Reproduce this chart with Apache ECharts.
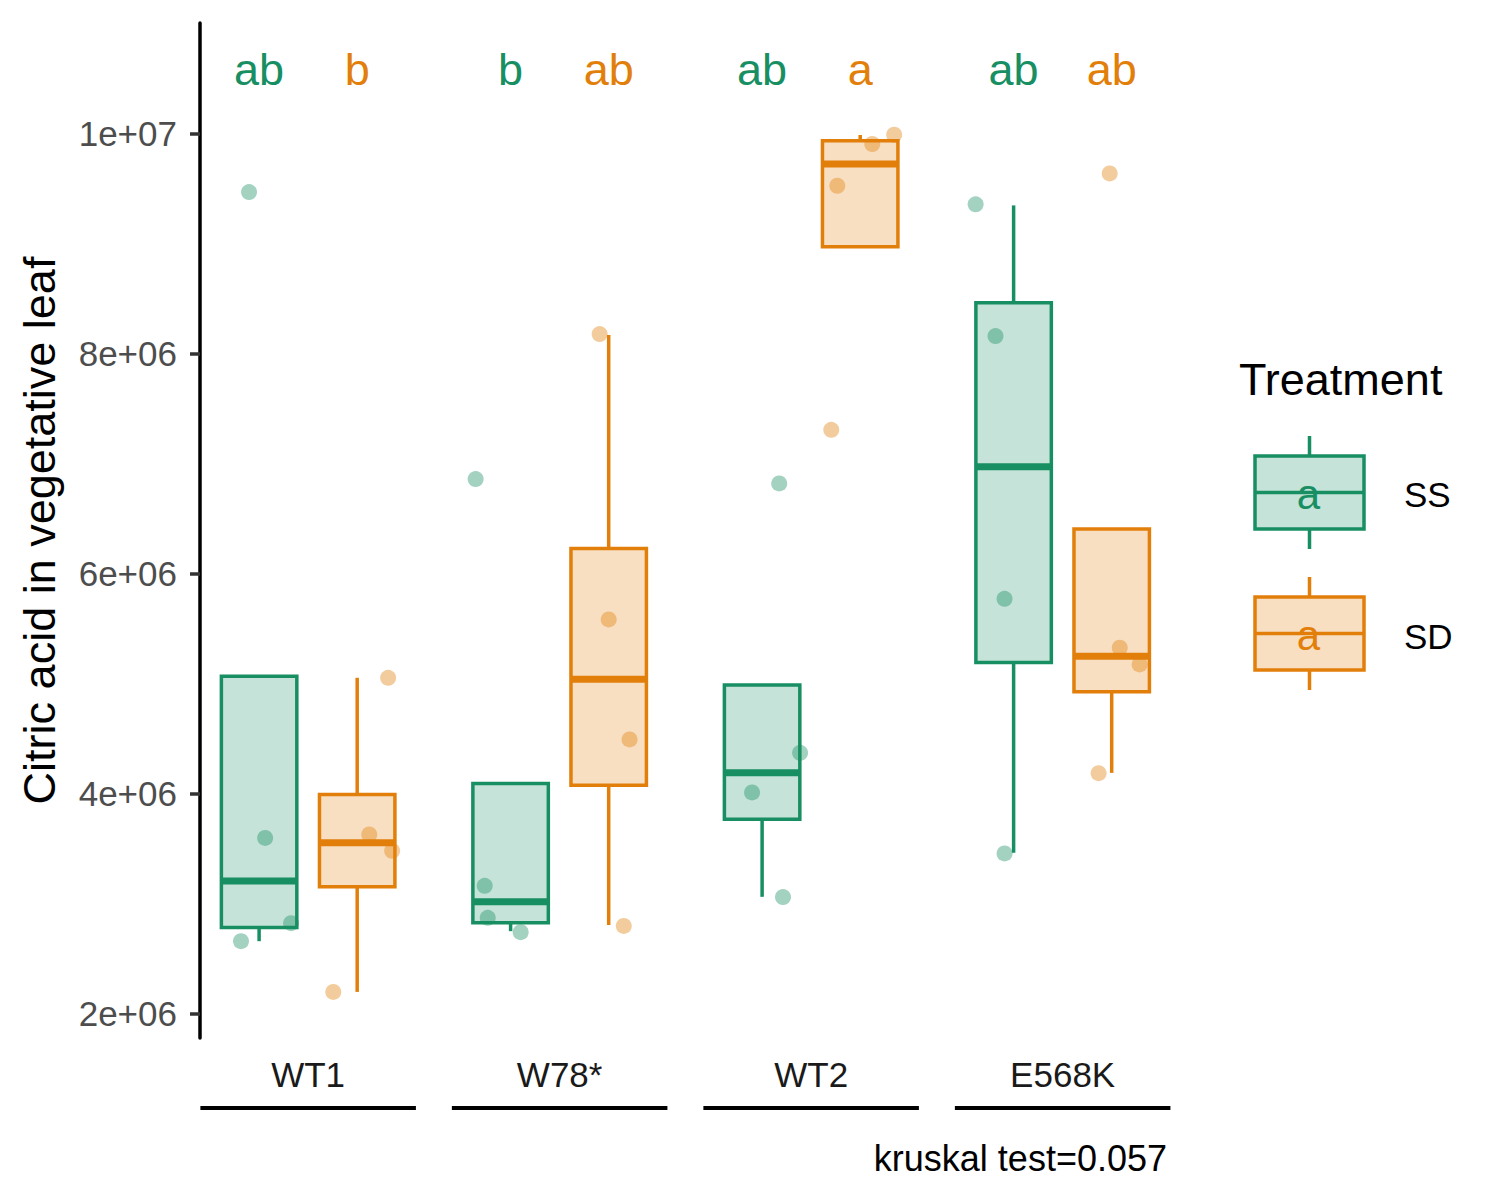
<!DOCTYPE html>
<html>
<head>
<meta charset="UTF-8">
<title>Citric acid in vegetative leaf</title>
<script src="https://cdn.jsdelivr.net/npm/echarts@6/dist/echarts.min.js"></script>
<style>
  html, body { margin: 0; padding: 0; background: #fff; }
  #main { width: 1500px; height: 1200px; }
</style>
</head>
<body>
<div id="main"></div>
<script type="text/javascript">
// genotypes on x, treatments as colours
var groups = ['WT1', 'W78*', 'WT2', 'E568K'];
var treatments = ['SS', 'SD'];

// box stats per genotype: [lower whisker, Q1, median, Q3, upper whisker]
var boxSS = [
  [2.657e6, 2.782e6, 3.205e6, 5.066e6, 5.066e6],
  [2.748e6, 2.824e6, 3.015e6, 4.091e6, 4.091e6],
  [3.060e6, 3.766e6, 4.187e6, 4.985e6, 4.985e6],
  [3.460e6, 5.191e6, 6.969e6, 8.460e6, 9.345e6]
];
var boxSD = [
  [2.196e6, 3.151e6, 3.551e6, 3.991e6, 5.051e6],
  [2.803e6, 4.075e6, 5.039e6, 6.227e6, 8.166e6],
  [8.969e6, 8.969e6, 9.721e6, 9.933e6, 9.985e6],
  [4.187e6, 4.924e6, 5.248e6, 6.403e6, 6.403e6]
];

// single measurements
var pointsSS = [
  [9.466e6, 3.596e6, 2.821e6, 2.657e6],
  [6.857e6, 3.160e6, 2.869e6, 2.739e6],
  [6.818e6, 4.369e6, 4.009e6, 3.058e6],
  [9.355e6, 8.157e6, 5.769e6, 3.455e6]
];
var pointsSD = [
  [5.051e6, 3.627e6, 3.478e6, 2.196e6],
  [8.175e6, 5.582e6, 4.491e6, 2.796e6],
  [9.987e6, 9.903e6, 9.524e6, 7.305e6],
  [9.636e6, 5.324e6, 5.173e6, 4.184e6]
];
// horizontal jitter of each point, in genotype units
var jitterSS = [
  [-0.040, 0.024, 0.127, -0.072],
  [-0.139, -0.103, -0.091, 0.040],
  [0.068, 0.151, -0.040, 0.083],
  [-0.151, -0.072, -0.036, -0.036]
];
var jitterSD = [
  [0.123, 0.048, 0.139, -0.095],
  [-0.036, 0.000, 0.083, 0.060],
  [0.135, 0.048, -0.091, -0.115],
  [-0.008, 0.032, 0.111, -0.052]
];

// significance letters above each box
var lettersSS = ['ab', 'b', 'ab', 'ab'];
var lettersSD = ['b', 'ab', 'a', 'ab'];
var letterY = 10.583e6;

var yTicks = [2e6, 4e6, 6e6, 8e6, 1e7];
var yTickLabels = ['2e+06', '4e+06', '6e+06', '8e+06', '1e+07'];
var yMin = 1.777e6, yMax = 11.003e6;

var FONT = "'Liberation Sans', Arial, Helvetica, sans-serif";
var GREEN = '#188f63', GREEN_FILL = 'rgba(24,143,99,0.25)', GREEN_PT = 'rgba(24,143,99,0.5)';
var ORANGE = '#e27f0b', ORANGE_FILL = 'rgba(226,127,11,0.25)', ORANGE_PT = 'rgba(226,127,11,0.5)';
var DODGE = 0.195, BOX_W = 0.30;

function makeBoxRender(color, fill, dodge) {
  return function (params, api) {
    var x = api.value(0) + dodge;
    var pLow = api.coord([x, api.value(1)]);
    var pQ1 = api.coord([x, api.value(2)]);
    var pMed = api.coord([x, api.value(3)]);
    var pQ3 = api.coord([x, api.value(4)]);
    var pHigh = api.coord([x, api.value(5)]);
    var w = api.size([BOX_W, 0])[0];
    var left = pQ1[0] - w / 2;
    return {
      type: 'group',
      children: [
        { type: 'line', shape: { x1: pLow[0], y1: pLow[1], x2: pQ1[0], y2: pQ1[1] }, style: { stroke: color, lineWidth: 3.5 } },
        { type: 'line', shape: { x1: pQ3[0], y1: pQ3[1], x2: pHigh[0], y2: pHigh[1] }, style: { stroke: color, lineWidth: 3.5 } },
        { type: 'rect', shape: { x: left, y: pQ3[1], width: w, height: pQ1[1] - pQ3[1] }, style: { fill: fill, stroke: color, lineWidth: 3.5 } },
        { type: 'line', shape: { x1: left, y1: pMed[1], x2: left + w, y2: pMed[1] }, style: { stroke: color, lineWidth: 7 } }
      ]
    };
  };
}

function makeLetterRender(letters, color, dodge) {
  return function (params, api) {
    var p = api.coord([api.value(0) + dodge, api.value(1)]);
    return {
      type: 'text',
      x: p[0], y: p[1],
      style: {
        text: letters[params.dataIndex], fill: color,
        font: '45px ' + FONT,
        align: 'center', verticalAlign: 'middle',
        textAlign: 'center', textVerticalAlign: 'middle'
      }
    };
  };
}

function pointData(pts, jit, dodge) {
  var out = [];
  pts.forEach(function (row, g) {
    row.forEach(function (v, k) { out.push([g + dodge + jit[g][k], v]); });
  });
  return out;
}

function boxData(box) {
  return box.map(function (b, g) { return [g].concat(b); });
}

function legendKey(y, color, fill) {
  // y = top of the key box
  return [
    { type: 'line', shape: { x1: 1309.5, y1: y - 20, x2: 1309.5, y2: y }, style: { stroke: color, lineWidth: 3.5 } },
    { type: 'line', shape: { x1: 1309.5, y1: y + 73, x2: 1309.5, y2: y + 93 }, style: { stroke: color, lineWidth: 3.5 } },
    { type: 'rect', shape: { x: 1255, y: y, width: 109, height: 73 }, style: { fill: fill, stroke: color, lineWidth: 3.5 } },
    { type: 'line', shape: { x1: 1255, y1: y + 36.5, x2: 1364, y2: y + 36.5 }, style: { stroke: color, lineWidth: 3.5 } },
    { type: 'text', x: 1308.5, y: y + 38, style: { text: 'a', fill: color, font: '42px ' + FONT, align: 'center', verticalAlign: 'middle', textAlign: 'center', textVerticalAlign: 'middle' } }
  ];
}

var chart = echarts.init(document.getElementById('main'), null, { renderer: 'svg' });

var option = {
  backgroundColor: '#fff',
  animation: false,
  grid: { left: 200, top: 23, right: 329.2, bottom: 162, containLabel: false },
  xAxis: {
    type: 'value',
    min: -0.43, max: 3.43,
    axisLine: { show: false },
    axisTick: { show: false },
    splitLine: { show: false },
    axisLabel: {
      customValues: [0, 1, 2, 3],
      formatter: function (v) { return groups[Math.round(v)]; },
      fontFamily: FONT, fontSize: 35, color: '#1a1a1a', margin: 19
    }
  },
  yAxis: {
    type: 'value',
    min: yMin, max: yMax,
    name: 'Citric acid in vegetative leaf',
    nameLocation: 'middle', nameRotate: 90, nameGap: 138,
    nameTextStyle: { fontFamily: FONT, fontSize: 45, color: '#000' },
    axisLine: { show: true, onZero: false, lineStyle: { color: '#000', width: 3.5 } },
    axisTick: { show: true, length: 10, customValues: yTicks, lineStyle: { color: '#333', width: 3.5 } },
    splitLine: { show: false },
    axisLabel: {
      customValues: yTicks,
      formatter: function (v) { return yTickLabels[yTicks.indexOf(v)]; },
      fontFamily: FONT, fontSize: 35, color: '#4d4d4d', margin: 23
    }
  },
  graphic: [
    { type: 'text', x: 1239, y: 379, style: { text: 'Treatment', fill: '#000', font: '45px ' + FONT, align: 'left', verticalAlign: 'middle', textAlign: 'left', textVerticalAlign: 'middle' } },
    { type: 'group', children: legendKey(456, GREEN, GREEN_FILL) },
    { type: 'group', children: legendKey(597, ORANGE, ORANGE_FILL) },
    { type: 'text', x: 1404, y: 494, style: { text: treatments[0], fill: '#000', font: '35px ' + FONT, align: 'left', verticalAlign: 'middle', textAlign: 'left', textVerticalAlign: 'middle' } },
    { type: 'text', x: 1404, y: 636, style: { text: treatments[1], fill: '#000', font: '35px ' + FONT, align: 'left', verticalAlign: 'middle', textAlign: 'left', textVerticalAlign: 'middle' } },
    { type: 'text', x: 1167, y: 1158, style: { text: 'kruskal test=0.057', fill: '#000', font: '36px ' + FONT, align: 'right', verticalAlign: 'middle', textAlign: 'right', textVerticalAlign: 'middle' } }
  ],
  series: [
    {
      name: 'SS', type: 'custom', z: 2,
      renderItem: makeBoxRender(GREEN, GREEN_FILL, -DODGE),
      encode: { x: 0, y: [1, 2, 3, 4, 5] },
      data: boxData(boxSS)
    },
    {
      name: 'SD', type: 'custom', z: 2,
      renderItem: makeBoxRender(ORANGE, ORANGE_FILL, DODGE),
      encode: { x: 0, y: [1, 2, 3, 4, 5] },
      data: boxData(boxSD)
    },
    {
      name: 'SS points', type: 'scatter', z: 3,
      symbolSize: 16,
      itemStyle: { color: GREEN_PT },
      data: pointData(pointsSS, jitterSS, -DODGE)
    },
    {
      name: 'SD points', type: 'scatter', z: 3,
      symbolSize: 16,
      itemStyle: { color: ORANGE_PT },
      data: pointData(pointsSD, jitterSD, DODGE)
    },
    {
      name: 'SS letters', type: 'custom', z: 4,
      renderItem: makeLetterRender(lettersSS, GREEN, -DODGE),
      encode: { x: 0, y: 1 },
      data: groups.map(function (g, i) { return [i, letterY]; })
    },
    {
      name: 'SD letters', type: 'custom', z: 4,
      renderItem: makeLetterRender(lettersSD, ORANGE, DODGE),
      encode: { x: 0, y: 1 },
      data: groups.map(function (g, i) { return [i, letterY]; })
    },
    {
      // underline beneath each genotype label
      name: 'strips', type: 'custom', z: 2, clip: false,
      renderItem: function (params, api) {
        var g = api.value(0);
        var pL = api.coord([g - 0.4285, yMin]);
        var pR = api.coord([g + 0.4285, yMin]);
        var y = pL[1] + 70;
        return { type: 'line', shape: { x1: pL[0], y1: y, x2: pR[0], y2: y }, style: { stroke: '#000', lineWidth: 4 } };
      },
      encode: { x: 0, y: 1 },
      data: groups.map(function (g, i) { return [i, yMin]; })
    }
  ]
};

chart.setOption(option);
</script>
</body>
</html>
